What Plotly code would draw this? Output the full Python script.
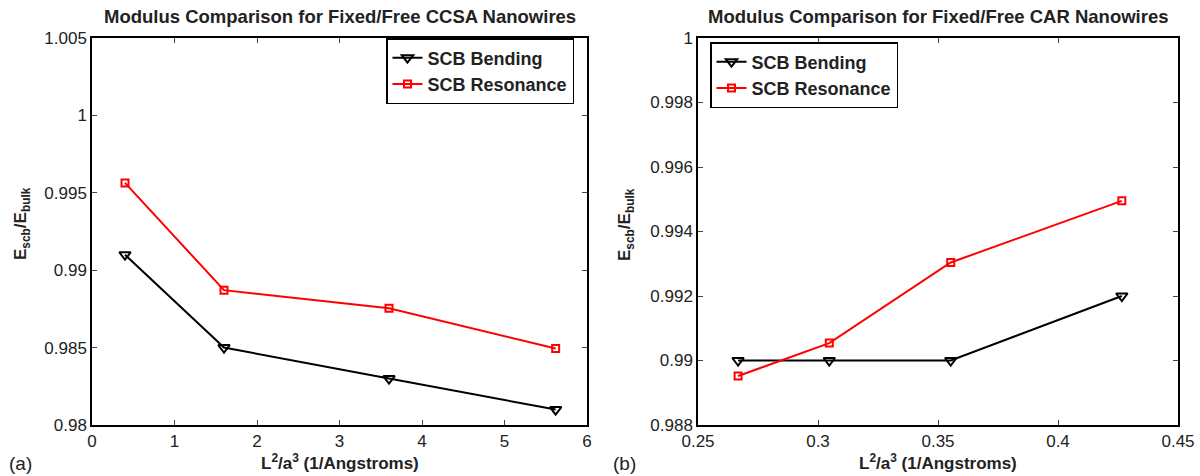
import plotly.graph_objects as go

# ---- data ----
a_x = [0.4, 1.6, 3.6, 5.62]
a_bending = [0.991, 0.985, 0.983, 0.981]
a_resonance = [0.99564, 0.98871, 0.98754, 0.98494]

b_x = [0.2667, 0.3047, 0.3553, 0.4266]
b_bending = [0.990, 0.990, 0.990, 0.992]
b_resonance = [0.98952, 0.99054, 0.99304, 0.99495]

a_xticks = [0, 1, 2, 3, 4, 5, 6]
a_xticktext = ["0", "1", "2", "3", "4", "5", "6"]
a_yticks = [0.98, 0.985, 0.99, 0.995, 1.0, 1.005]
a_yticktext = ["0.98", "0.985", "0.99", "0.995", "1", "1.005"]
b_xticks = [0.25, 0.3, 0.35, 0.4, 0.45]
b_xticktext = ["0.25", "0.3", "0.35", "0.4", "0.45"]
b_yticks = [0.988, 0.99, 0.992, 0.994, 0.996, 0.998, 1.0]
b_yticktext = ["0.988", "0.99", "0.992", "0.994", "0.996", "0.998", "1"]

titles = ["Modulus Comparison for Fixed/Free CCSA Nanowires",
          "Modulus Comparison for Fixed/Free CAR Nanowires"]
xlabel = "L<sup>2</sup>/a<sup>3</sup> (1/Angstroms)"
ylabel = "E<sub>scb</sub>/E<sub>bulk</sub>"
panel_labels = ["(a)", "(b)"]

W, H = 1200, 476
FONT = "Liberation Sans, Arial, Helvetica, sans-serif"

fig = go.Figure()

def add_pair(x, bend, res, xa, ya, legend):
    fig.add_trace(go.Scatter(
        x=x, y=bend, mode="lines+markers", name="SCB Bending",
        line=dict(color="black", width=2),
        marker=dict(symbol="triangle-down-open", size=10, color="black",
                    line=dict(width=2, color="black")),
        xaxis=xa, yaxis=ya, legend=legend))
    fig.add_trace(go.Scatter(
        x=x, y=res, mode="lines+markers", name="SCB Resonance",
        line=dict(color="#ff0000", width=2),
        marker=dict(symbol="square-open", size=7, color="#ff0000",
                    line=dict(width=2, color="#ff0000")),
        xaxis=xa, yaxis=ya, legend=legend))

add_pair(a_x, a_bending, a_resonance, "x", "y", "legend")
add_pair(b_x, b_bending, b_resonance, "x2", "y2", "legend2")

# plot areas in pixels
L1, R1 = 92, 587
L2, R2 = 698, 1178
TOP, BOT = 38, 425

def fx(px):
    return px / W

def fy(py):
    return 1 - py / H

axis_common = dict(showline=True, linecolor="black", linewidth=1.5,
                   mirror="ticks", ticks="inside", ticklen=5, tickwidth=1,
                   tickcolor="#444", showgrid=False, zeroline=False,
                   automargin=False,
                   tickfont=dict(family=FONT, size=17, color="#222"))

LEGFONT = dict(family=FONT, size=18, color="#222", weight="bold")

fig.update_layout(
    width=W, height=H,
    margin=dict(l=0, r=0, t=0, b=0),
    paper_bgcolor="white", plot_bgcolor="white",
    font=dict(family=FONT, color="#222"),
    xaxis=dict(domain=[fx(L1), fx(R1)], range=[0, 6], anchor="y",
               tickmode="array", tickvals=a_xticks, ticktext=a_xticktext,
               **axis_common),
    yaxis=dict(domain=[fy(BOT), fy(TOP)], range=[0.98, 1.005], anchor="x",
               tickmode="array", tickvals=a_yticks, ticktext=a_yticktext,
               **axis_common),
    xaxis2=dict(domain=[fx(L2), fx(R2)], range=[0.25, 0.45], anchor="y2",
                tickmode="array", tickvals=b_xticks, ticktext=b_xticktext,
                **axis_common),
    yaxis2=dict(domain=[fy(BOT), fy(TOP)], range=[0.988, 1.0], anchor="x2",
                tickmode="array", tickvals=b_yticks, ticktext=b_yticktext,
                **axis_common),
    legend=dict(x=fx(574), y=fy(38), xanchor="right", yanchor="top",
                bgcolor="white", bordercolor="black", borderwidth=1.5,
                font=LEGFONT, tracegroupgap=0),
    legend2=dict(x=fx(710), y=fy(42), xanchor="left", yanchor="top",
                 bgcolor="white", bordercolor="black", borderwidth=1.5,
                 font=LEGFONT, tracegroupgap=0),
)

ann = []
for (l, r), t in zip([(L1, R1), (L2, R2)], titles):
    ann.append(dict(text="<b>" + t + "</b>", x=fx((l + r) / 2), y=fy(17),
                    xref="paper", yref="paper", xanchor="center", yanchor="middle",
                    showarrow=False, font=dict(family=FONT, size=18.5, color="#222")))
    ann.append(dict(text="<b>" + xlabel + "</b>", x=fx((l + r) / 2), y=fy(462),
                    xref="paper", yref="paper", xanchor="center", yanchor="middle",
                    showarrow=False, font=dict(family=FONT, size=17, color="#222")))
for xc, t in zip([20, 624], panel_labels):
    ann.append(dict(text=t, x=fx(xc), y=fy(463), xref="paper", yref="paper",
                    xanchor="center", yanchor="middle", showarrow=False,
                    font=dict(family=FONT, size=19, color="#222")))
for xc in [22, 626]:
    ann.append(dict(text="<b>" + ylabel + "</b>", x=fx(xc), y=fy(224),
                    xref="paper", yref="paper", xanchor="center", yanchor="middle",
                    textangle=-90, showarrow=False,
                    font=dict(family=FONT, size=17, color="#222")))
fig.update_layout(annotations=ann)

fig.write_html("out.html")
